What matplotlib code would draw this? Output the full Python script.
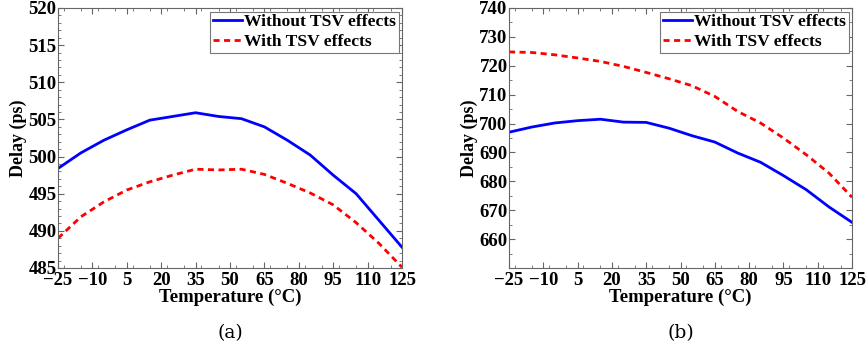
import numpy as np
import matplotlib.pyplot as plt
from matplotlib.ticker import MultipleLocator

# temperatures (deg C)
temps = [-25, -15, -5, 5, 15, 25, 35, 45, 55, 65, 75, 85, 95, 105, 115, 125]

# (a)
a_without = [498.4, 500.5, 502.2, 503.6, 504.9, 505.4, 505.9, 505.4, 505.1, 504.0,
             502.2, 500.2, 497.5, 495.0, 491.4, 487.8]
a_with = [489.0, 491.9, 493.9, 495.5, 496.6, 497.5, 498.3, 498.2, 498.3, 497.6,
          496.4, 495.1, 493.5, 491.1, 488.3, 485.1]

# (b)
b_without = [697.0, 698.8, 700.2, 701.0, 701.5, 700.5, 700.4, 698.4, 695.8, 693.6,
             689.8, 686.6, 682.0, 677.1, 671.1, 665.8]
b_with = [724.8, 724.6, 723.8, 722.7, 721.5, 719.8, 717.7, 715.5, 713.1, 709.4,
          704.2, 700.2, 695.0, 689.2, 682.8, 674.5]

xticks = [-25, -10, 5, 20, 35, 50, 65, 80, 95, 110, 125]
xticklabels = ['\u221225', '\u221210'] + [str(t) for t in xticks[2:]]

serif = ['Liberation Serif', 'DejaVu Serif']
bold = dict(family=serif, weight='bold')

fig = plt.figure(figsize=(8.66, 3.47), dpi=100)
W, H = 866, 347
panels = [
    (fig.add_axes([58 / W, 1 - 268 / H, 344 / W, 260 / H]), a_without, a_with,
     (485, 520), 5, 1, '(a)'),
    (fig.add_axes([509 / W, 1 - 268 / H, 343 / W, 260 / H]), b_without, b_with,
     (650, 740), 10, 5, '(b)'),
]

for ax, yw, yt, ylim, ymaj, ymin, cap in panels:
    ax.plot(temps, yw, color='#0000ff', lw=2.0, label='Without TSV effects')
    ax.plot(temps, yt, color='#ff0000', lw=2.0, ls=(0, (2.2, 1.6)), label='With TSV effects')
    ax.set_xlim(-25, 125)
    ax.set_ylim(*ylim)
    ax.set_xticks(xticks)
    ax.set_xticklabels(xticklabels)
    ax.xaxis.set_minor_locator(MultipleLocator(7.5))
    yt_major = np.arange(ylim[0], ylim[1] + 0.1, ymaj)
    if ylim[0] == 650:
        yt_major = yt_major[1:]
    ax.set_yticks(yt_major)
    ax.yaxis.set_minor_locator(MultipleLocator(ymin))
    ax.tick_params(which='both', direction='in', top=True, right=True, color='#666666')
    ax.tick_params(which='major', length=4, labelsize=13.5)
    ax.tick_params(axis='x', which='major', pad=3)
    ax.tick_params(axis='y', which='major', pad=1)
    ax.tick_params(which='minor', length=2)
    for lab in ax.get_xticklabels() + ax.get_yticklabels():
        lab.set_family(serif)
        lab.set_fontweight('bold')
    for sp in ax.spines.values():
        sp.set_color('#666666')
        sp.set_linewidth(0.8)
    ax.set_xlabel('Temperature (\u00b0C)', fontsize=13.5, labelpad=0, **bold)
    ax.set_ylabel('Delay (ps)', fontsize=13, labelpad=1, **bold)
    leg = ax.legend(loc='upper right', prop=dict(family=serif, weight='bold', size=12.6),
                    fancybox=False, framealpha=1, edgecolor='#777777',
                    handlelength=1.7, handletextpad=0.1, borderpad=0.15,
                    labelspacing=0.2, borderaxespad=0.2)
    leg.get_frame().set_linewidth(0.8)
    ax.text(0.5, -0.25, cap, transform=ax.transAxes, ha='center', va='center',
            fontsize=13.5, family=['DejaVu Serif'])

fig.savefig('out.png', dpi=100)
